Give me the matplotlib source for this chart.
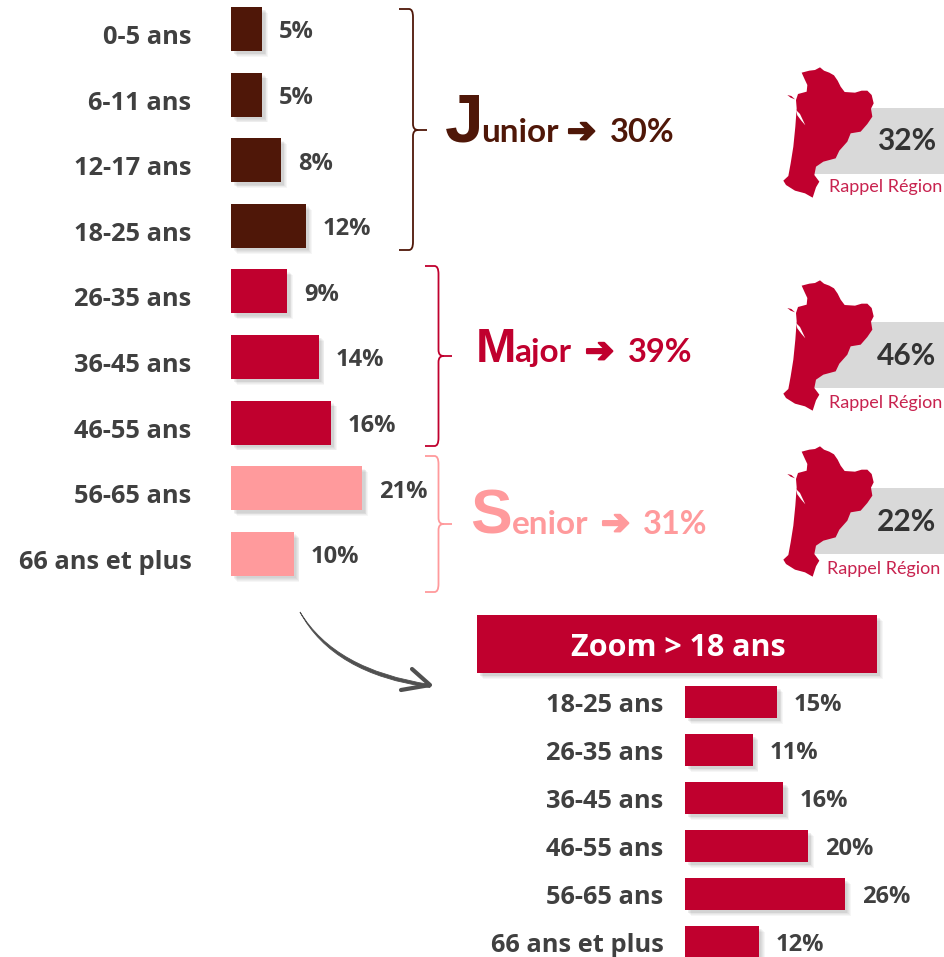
import matplotlib
matplotlib.use('Agg')
import matplotlib.pyplot as plt
import matplotlib.patheffects as pe
from matplotlib.patches import Polygon, Rectangle, PathPatch
from matplotlib.path import Path

W, H = 944, 957
BROWN = '#4f1708'
RED = '#c0002e'
PINK = '#ff9a9c'
GREY = '#404040'

ages = ['0-5 ans', '6-11 ans', '12-17 ans', '18-25 ans', '26-35 ans',
        '36-45 ans', '46-55 ans', '56-65 ans', '66 ans et plus']
values = [5, 5, 8, 12, 9, 14, 16, 21, 10]
colors = [BROWN]*4 + [RED]*3 + [PINK]*2

zoom_ages = ['18-25 ans', '26-35 ans', '36-45 ans', '46-55 ans', '56-65 ans', '66 ans et plus']
zoom_values = [15, 11, 16, 20, 26, 12]

groups = ['unior', 'ajor', 'enior']
group_initials = ['J', 'M', 'S']
group_shares = ['30%', '39%', '31%']
region_shares = ['32%', '46%', '22%']

plt.rcParams['font.family'] = ['Open Sans', 'DejaVu Sans']

fig = plt.figure(figsize=(W/100, H/100), dpi=100)


def px_axes(x0, y0, x1, y1):
    # axes placed with pixel coords, y measured from the top
    return fig.add_axes([x0/W, 1-y1/H, (x1-x0)/W, (y1-y0)/H])


def shadow(patch):
    patch.set_path_effects([
        pe.withSimplePatchShadow(offset=(o, -o), shadow_rgbFace='#000000', alpha=0.035)
        for o in (4.2, 3.6, 3, 2.4, 1.8)
    ])


def bar_chart(ax, labels, vals, cols, height, tick_shift, pad, value_dy):
    bars = ax.barh(range(len(vals)), vals, height=height, color=cols)
    for b in bars:
        shadow(b)
    for i, v in enumerate(vals):
        ax.annotate(f'{v}%', (v, i), xytext=(12, value_dy), textcoords='offset points',
                    va='center', ha='left', fontsize=17, fontweight='bold', color=GREY)
    ax.set_yticks([i + tick_shift for i in range(len(labels))])
    ax.set_yticklabels(labels, fontsize=18.3, fontweight='bold', color=GREY)
    ax.tick_params(axis='y', length=0, pad=pad)
    ax.set_xticks([])
    for s in ax.spines.values():
        s.set_visible(False)
    ax.patch.set_alpha(0)


# main bars: 6.25 px per %, rows 65.6 px apart, first row at y=29
ax = px_axes(231, 0, 231+25*6.25, 590)
ax.set_xlim(0, 25)
ax.set_ylim((590-29)/65.6, -29/65.6)
bar_chart(ax, ages, values, colors, 44/65.6, 5.5/65.6, 28.5, -2.5)

# zoom bars
ax2 = px_axes(685, 680, 685+35*6.15, H)
ax2.set_xlim(0, 35)
ax2.set_ylim((H-702)/48, -22/48)
bar_chart(ax2, zoom_ages, zoom_values, [RED]*6, 32/48, 0.5/48, 15.5, -2.5)

# overlay in pixel coords for the annotations
ov = fig.add_axes([0, 0, 1, 1])
ov.set_xlim(0, W)
ov.set_ylim(H, 0)
ov.axis('off')
ov.patch.set_alpha(0)


def bracket(xl, xv, xt, top, mid, bot, col):
    r = 4
    verts = [(xl, top), (xv-r, top), (xv, top), (xv, top+r*2), (xv, mid-6), (xv, mid), (xv+5, mid), (xt, mid),
             (xv+5, mid), (xv, mid), (xv, mid+6), (xv, bot-r*2), (xv, bot), (xv-r, bot), (xl, bot)]
    codes = [Path.MOVETO, Path.LINETO, Path.CURVE3, Path.CURVE3, Path.LINETO, Path.CURVE3, Path.CURVE3, Path.LINETO,
             Path.MOVETO, Path.CURVE3, Path.CURVE3, Path.LINETO, Path.CURVE3, Path.CURVE3, Path.LINETO]
    ov.add_patch(PathPatch(Path(verts, codes), fill=False, edgecolor=col, lw=1.3))


bracket(399, 413, 427, 9, 130, 250, BROWN)
bracket(425, 438.5, 452, 266, 356, 446, RED)
bracket(425, 438.5, 452, 456, 524, 592, PINK)

# group titles: initial, rest of word, arrow, share
title_x = [(445, 481, 567, 610), (476, 514, 585, 628), (470, 512, 601, 643)]
title_y = [142, 362, 534]
initial_size = [50, 35, 45]
title_cols = [BROWN, RED, PINK]
for i, (x0, x1, xa, xs) in enumerate(title_x):
    c = title_cols[i]
    y = title_y[i]
    ov.text(x0, y, group_initials[i], fontsize=initial_size[i], fontweight='bold', color=c,
            va='baseline', family='Liberation Sans')
    ov.text(x1, y, groups[i], fontsize=24, fontweight='bold', color=c, va='baseline', family='Lato')
    ov.text(xa, y, '\u2794', fontsize=25, color=c, va='baseline', family='DejaVu Sans',
            path_effects=[pe.withStroke(linewidth=1.5, foreground=c)])
    ov.text(xs, y, group_shares[i], fontsize=23.5, fontweight='bold', color=c, va='baseline', family='Lato')

# region outline (zoomed 3x)
outline = [(95, 68), (118, 62), (135, 60), (150, 52), (162, 62), (178, 68), (192, 76), (203, 92),
           (212, 110), (224, 126), (255, 128), (275, 122), (292, 122), (305, 135), (311, 160),
           (303, 176), (307, 200), (292, 222), (272, 245), (242, 250), (232, 275), (208, 302),
           (197, 325), (160, 335), (138, 350), (133, 375), (148, 395), (138, 412), (128, 443),
           (105, 430), (75, 422), (48, 405), (40, 392), (55, 378), (62, 340), (70, 290),
           (76, 230), (80, 175), (78, 150), (84, 132), (110, 125), (112, 105), (104, 88)]
estuary = [(78, 180), (90, 192), (106, 226), (94, 212), (82, 196)]
island = [(52, 135), (64, 138), (75, 148), (62, 143)]
map_dy = [50, 263, 429]
band_tops = [108, 322, 488]
text_y = [141, 356, 522]
note_y = [187, 403, 569]
note_x = [886, 886, 884]
for i in range(3):
    ov.add_patch(Rectangle((800, band_tops[i]), 144, 66, color='#d9d9d9', lw=0))
    dy = map_dy[i]
    ov.add_patch(Polygon([(770+a/3, dy+b/3) for a, b in outline], closed=True, color=RED, lw=0))
    ov.add_patch(Polygon([(770+a/3, dy+b/3) for a, b in estuary], closed=True, color='white', lw=0))
    ov.add_patch(Polygon([(770+a/3, dy+b/3) for a, b in island], closed=True, color=RED, lw=0))
    ov.text(907, text_y[i], region_shares[i], fontsize=21.5, fontweight='bold', color='#333333',
            ha='center', va='center', family='Lato')
    ov.text(note_x[i], note_y[i], 'Rappel Région', fontsize=13, color='#c8234f', ha='center', va='center',
            family='Lato')

# zoom header
head = Rectangle((477, 615), 400, 58, color=RED, lw=0)
ov.add_patch(head)
shadow(head)
ov.text(678, 648, 'Zoom > 18 ans', fontsize=22, fontweight='bold', color='white', ha='center', va='center')

# hand drawn arrow, thin at the start
arrow = Path([(300, 612), (335, 670), (430, 684.5), (430, 687.5), (333, 674), (300, 612)],
             [Path.MOVETO, Path.CURVE3, Path.CURVE3, Path.LINETO, Path.CURVE3, Path.CURVE3])
ov.add_patch(PathPatch(arrow, facecolor='#505050', edgecolor='#505050', lw=0.6))
head_line = Path([(412, 669), (430, 685), (401, 690)], [Path.MOVETO, Path.LINETO, Path.LINETO])
ov.add_patch(PathPatch(head_line, fill=False, edgecolor='#505050', lw=3, capstyle='round', joinstyle='round'))

fig.savefig('out.png', dpi=100)
